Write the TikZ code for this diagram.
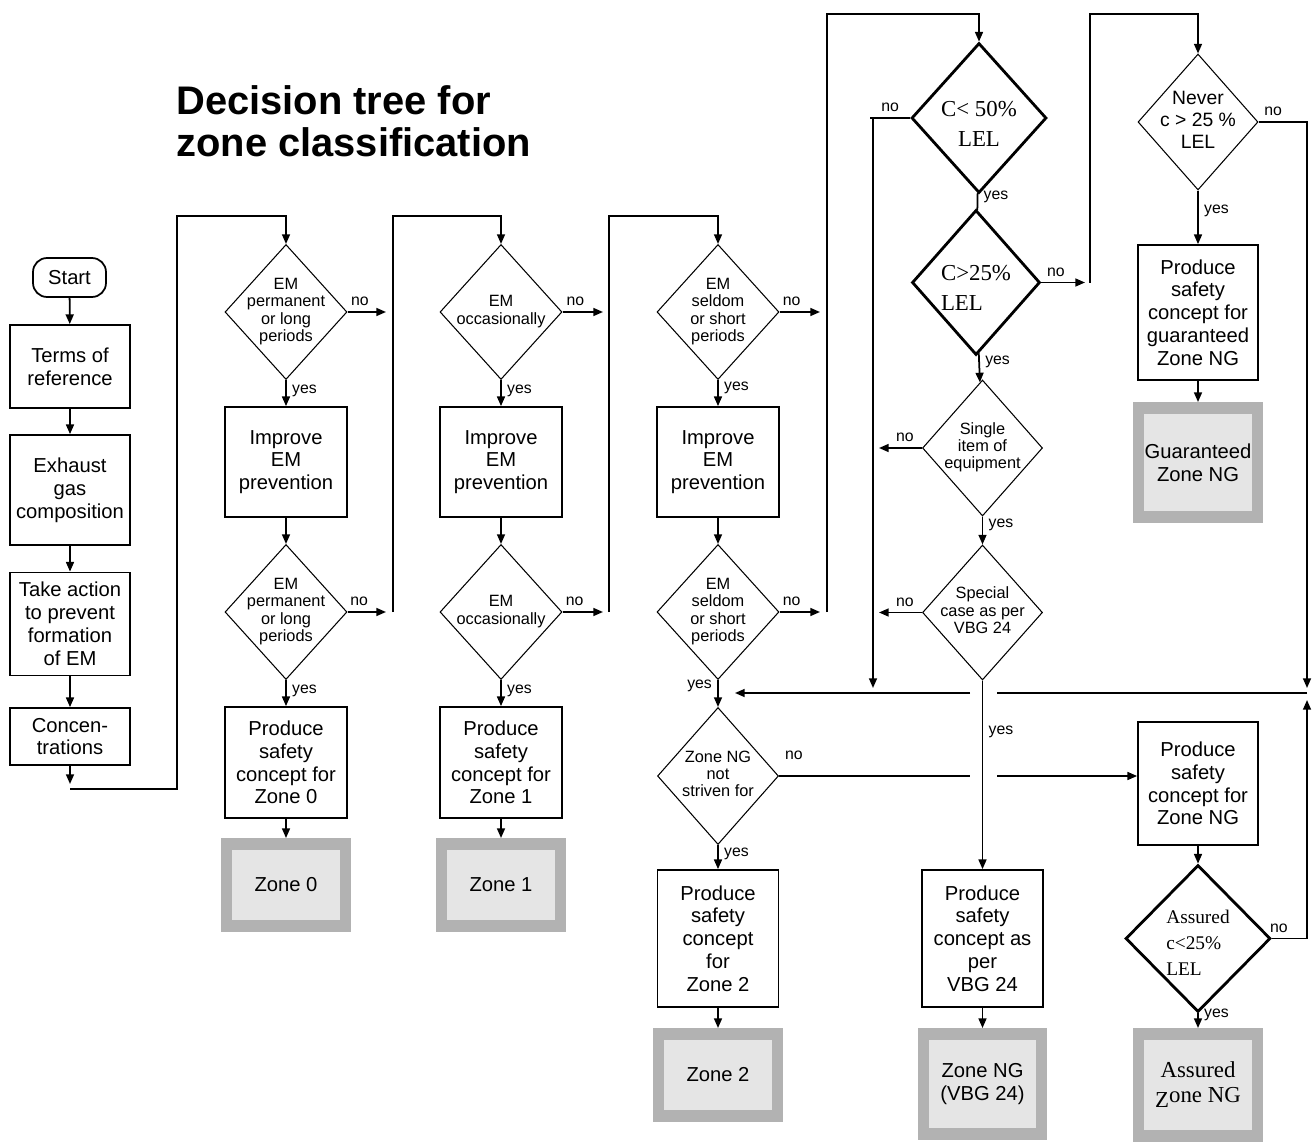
\documentclass[tikz,border=0pt]{standalone}
\usepackage{fontspec}
\setmainfont{Liberation Sans}
\newfontfamily\lserif{Liberation Serif}
\usetikzlibrary{shapes.geometric,arrows.meta}

\definecolor{zoneedge}{RGB}{178,178,178}
\definecolor{zonefill}{RGB}{229,229,229}

\newcommand\boxfont{\fontsize{11.5}{13}\selectfont}
\newcommand\diafont{\fontsize{9.3}{9.8}\selectfont}
\newcommand\lblfont{\fontsize{9}{10}\selectfont}
% text of a decision, takes no room so the diamond keeps its size
\newcommand\dtxt[2][c]{\makebox[0pt]{\smash{\raisebox{-.25em}{\begin{tabular}{@{}#1@{}}#2\end{tabular}}}}}
% same, set a little low (serif decisions)
\newcommand\stxt[2][c]{\makebox[0pt]{\smash{\raisebox{-.55em}{\begin{tabular}{@{}#1@{}}#2\end{tabular}}}}}

\begin{document}
\begin{tikzpicture}[x=0.02cm,y=-0.02cm,
  box/.style={draw, line width=1pt, align=center, font=\boxfont, inner sep=1pt},
  startbox/.style={box, rounded corners=8pt, minimum width=1.46cm, minimum height=0.78cm},
  dia/.style={diamond, draw, line width=0.6pt, inner sep=0pt, font=\diafont},
  thickdia/.style={dia, line width=1.6pt, font=\lserif\fontsize{13}{17}\selectfont},
  zone/.style={draw=zoneedge, fill=zonefill, line width=6.8pt, outer sep=3.4pt,
    minimum width=2.38cm, minimum height=1.64cm, align=center, font=\boxfont},
  arr/.style={line width=1pt, -{Triangle[length=5.5pt,width=4.5pt]}},
  wire/.style={line width=1pt},
  lbl/.style={font=\lblfont, inner sep=3pt}]
\useasboundingbox (0,0) rectangle (1315,1142);

\node[anchor=north west, inner sep=0pt, align=left, font=\bfseries\fontsize{22.7}{24}\selectfont] (title) at (176,85) {Decision tree for\\zone classification};

% left column
\node[startbox] (start) at (69.5,277.5) {Start};
\node[box, minimum width=2.4cm, minimum height=1.66cm] (terms) at (70,366.5) {Terms of\\reference};
\node[box, minimum width=2.4cm, minimum height=2.2cm] (exhaust) at (70,490) {Exhaust\\gas\\composition};
\node[box, minimum width=2.4cm, minimum height=2.06cm] (action) at (70,624) {Take action\\to prevent\\formation\\of EM};
\node[box, minimum width=2.4cm, minimum height=1.14cm] (conc) at (70,736.5) {Concen-\\trations};

% zone 0
\node[dia, minimum width=2.44cm, minimum height=2.7cm] (em1) at (286,312) {\dtxt{EM\\permanent\\or long\\periods}};
\node[box, minimum width=2.44cm, minimum height=2.2cm] (imp1) at (286,462) {Improve\\EM\\prevention};
\node[dia, minimum width=2.44cm, minimum height=2.7cm] (em2) at (286,612) {\dtxt{EM\\permanent\\or long\\periods}};
\node[box, minimum width=2.44cm, minimum height=2.22cm] (safe0) at (286,762.5) {Produce\\safety\\concept for\\Zone 0};
\node[zone] (zone0) at (286,885) {Zone 0};

% zone 1
\node[dia, minimum width=2.44cm, minimum height=2.7cm] (em3) at (501,312) {\dtxt{EM\\occasionally}};
\node[box, minimum width=2.44cm, minimum height=2.2cm] (imp2) at (501,462) {Improve\\EM\\prevention};
\node[dia, minimum width=2.44cm, minimum height=2.7cm] (em4) at (501,612) {\dtxt{EM\\occasionally}};
\node[box, minimum width=2.44cm, minimum height=2.22cm] (safe1) at (501,762.5) {Produce\\safety\\concept for\\Zone 1};
\node[zone] (zone1) at (501,885) {Zone 1};

% zone 2
\node[dia, minimum width=2.44cm, minimum height=2.7cm] (em5) at (718,312) {\dtxt{EM\\seldom\\or short\\periods}};
\node[box, minimum width=2.44cm, minimum height=2.2cm] (imp3) at (718,462) {Improve\\EM\\prevention};
\node[dia, minimum width=2.44cm, minimum height=2.7cm] (em6) at (718,612) {\dtxt{EM\\seldom\\or short\\periods}};
\node[dia, minimum width=2.42cm, minimum height=2.74cm] (ngsel) at (718,776) {\dtxt{Zone NG\\not\\striven for}};
\node[box, minimum width=2.42cm, minimum height=2.74cm] (safe2) at (718,938.5) {Produce\\safety\\concept\\for\\Zone 2};
\node[zone] (zone2) at (718,1075) {Zone 2};

% concentration checks
\node[thickdia, minimum width=2.7cm, minimum height=3cm] (lel50) at (979,118) {\stxt{C< 50\%\\LEL}};
\node[thickdia, minimum width=2.56cm, minimum height=2.9cm] (lel25) at (976,282.5) {\stxt[l]{C>25\%\\LEL}};
\node[dia, minimum width=2.4cm, minimum height=2.72cm] (single) at (982.5,448) {\dtxt{Single\\item of\\equipment}};
\node[dia, minimum width=2.4cm, minimum height=2.7cm] (special) at (982.5,612.5) {\dtxt{Special\\case as per\\VBG 24}};
\node[box, minimum width=2.42cm, minimum height=2.74cm] (safevbg) at (982.5,938.5) {Produce\\safety\\concept as\\per\\VBG 24};
\node[zone, minimum width=2.36cm, minimum height=2cm] (zonevbg) at (982.5,1084) {Zone NG\\(VBG 24)};

% zone NG
\node[dia, minimum width=2.4cm, minimum height=2.72cm, font=\fontsize{11}{12.5}\selectfont] (never) at (1198,122) {\dtxt{Never\\c > 25 \%\\LEL}};
\node[box, minimum width=2.4cm, minimum height=2.7cm] (safeg) at (1198,312.5) {Produce\\safety\\concept for\\guaranteed\\Zone NG};
\node[zone, minimum height=2.18cm] (zoneg) at (1198,462.5) {Guaranteed\\Zone NG};
\node[box, minimum width=2.4cm, minimum height=2.46cm] (safeng) at (1198,783.5) {Produce\\safety\\concept for\\Zone NG};
\node[thickdia, minimum width=2.9cm, minimum height=2.94cm, font=\lserif\fontsize{11}{14.7}\selectfont] (assured) at (1198,938.5) {\stxt[l]{Assured\\c<25\%\\LEL}};
\node[zone, minimum height=2.04cm, font=\lserif\fontsize{13}{14}\selectfont] (zoneass) at (1198,1085) {Assured\\\raisebox{-3pt}{Z}one NG};

% left column arrows
\draw[arr] (start) -- (terms);
\draw[arr] (terms) -- (exhaust);
\draw[arr] (exhaust) -- (action);
\draw[arr] (action) -- (conc);
\coordinate (concend) at (70,784);
\draw[arr] (conc) -- (concend);
\draw[arr] (70,789) -| (177,216) -| (em1.north);

% zone 0 arrows
\draw[arr] (em1.east) -- node[lbl, above, pos=.32] {no} (386,312);
\draw[arr] (em1) -- node[lbl, right, pos=.4] {yes} (imp1);
\draw[arr] (imp1) -- (em2);
\draw[arr] (em2.east) -- node[lbl, above, pos=.3] {no} (386,612);
\draw[arr] (em2) -- node[lbl, right, pos=.4] {yes} (safe0);
\draw[arr] (safe0) -- (zone0);
\draw[arr] (393,612) -- (393,216) -| (em3.north);

% zone 1 arrows
\draw[arr] (em3.east) -- node[lbl, above, pos=.32] {no} (603,312);
\draw[arr] (em3) -- node[lbl, right, pos=.4] {yes} (imp2);
\draw[arr] (imp2) -- (em4);
\draw[arr] (em4.east) -- node[lbl, above, pos=.3] {no} (603,612);
\draw[arr] (em4) -- node[lbl, right, pos=.4] {yes} (safe1);
\draw[arr] (safe1) -- (zone1);
\draw[arr] (609,612) -- (609,216) -| (em5.north);

% zone 2 arrows
\draw[arr] (em5.east) -- node[lbl, above, pos=.3] {no} (820,312);
\draw[arr] (em5) -- node[lbl, right, pos=.3] {yes} (imp3);
\draw[arr] (imp3) -- (em6);
\draw[arr] (em6.east) -- node[lbl, above, pos=.3] {no} (820,612);
\draw[arr] (em6) -- node[lbl, left, pos=.2] {yes} (ngsel);
\draw[wire] (ngsel.east) -- node[lbl, anchor=south west, pos=0, yshift=6pt] {no} (970,776);
\draw[arr] (997,776) -- (ngsel.east -| safeng.west);
\draw[arr] (ngsel) -- node[lbl, right, pos=.35] {yes} (safe2);
\draw[arr] (safe2) -- (zone2);
\draw[arr] (827,612) -- (827,14) -| (lel50.north);

% concentration arrows
\draw[wire] (lel50.west) -- node[lbl, above] {no} (870,118);
\draw[arr] (873,118) -- (873,688);
\draw[wire] (lel50) -- node[lbl, right, pos=.25] {yes} (lel25);
\draw[arr] (lel25.east) -- node[lbl, above, pos=.33] {no} (1085,282.5);
\draw[arr] (1090,282.5) -- (1090,14) -| (never.north);
\draw[arr] (lel25) -- node[lbl, right, pos=.3] {yes} (single);
\draw[arr] (single.west) -- node[lbl, above, pos=.4] {no} (879,448);
\draw[arr] (single) -- node[lbl, right, pos=.3] {yes} (special);
\draw[arr] (special.west) -- node[lbl, above, pos=.4] {no} (879,612.5);
\draw[arr] (special) -- node[lbl, right, pos=.27] {yes} (safevbg);
\draw[arr] (safevbg) -- (zonevbg);

% back to zone NG not striven for
\draw[wire] (1307,693) -- (997,693);
\draw[arr] (970,693) -- (735,693);

% zone NG arrows
\draw[arr] (never.east) -| node[lbl, above, pos=.15] {no} (1307,688);
\draw[arr] (never) -- node[lbl, right, pos=.38] {yes} (safeg);
\draw[arr] (safeg) -- (zoneg);
\draw[arr] (safeng) -- (assured);
\draw[arr] (assured) -- node[lbl, right, pos=.1] {yes} (zoneass);
\draw[arr] (assured.east) -| node[lbl, above, pos=.1] {no} (1307,700);
\end{tikzpicture}
\end{document}
